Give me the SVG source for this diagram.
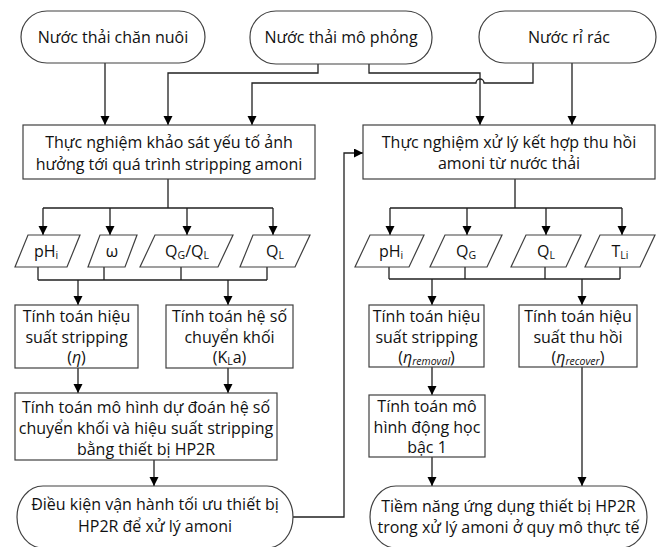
<svg xmlns="http://www.w3.org/2000/svg" width="657" height="547" viewBox="0 0 657 547">
<defs>
<marker id="arr" markerUnits="userSpaceOnUse" markerWidth="10" markerHeight="10" refX="9" refY="4.5" orient="auto">
<path d="M0,0 L9,4.5 L0,9 z" fill="#000"/>
</marker>
<style>
.n{fill:#fff;stroke:#404040;stroke-width:1.2}
.c{fill:none;stroke:#202020;stroke-width:1.3}
.a{marker-end:url(#arr)}
text{font-family:"Open Sans","Noto Sans","Liberation Sans",sans-serif;font-size:16px;fill:#111;text-anchor:middle}
.s{font-size:10.5px}
.i{font-style:italic}
.si{font-size:10.5px;font-style:italic}
</style>
</defs>
<rect width="657" height="547" fill="#fff"/>

<g id="connectors">
<path class="c a" d="M105,63 V125"/>
<path class="c a" d="M318,64 V73 H168 V125"/>
<path class="c a" d="M369,64 V73 H480 V125"/>
<path class="c a" d="M533,63 V83 H484 A4,4 0 0 0 476,83 H252 V125"/>
<path class="c a" d="M572,63 V125"/>
<path class="c" d="M168,179 V208 M43,208 H273"/>
<path class="c a" d="M43,208 V235"/>
<path class="c a" d="M110,208 V235"/>
<path class="c a" d="M187,208 V235"/>
<path class="c a" d="M273,208 V235"/>
<path class="c" d="M515,179 V208 M390,208 H622"/>
<path class="c a" d="M390,208 V235"/>
<path class="c a" d="M467,208 V235"/>
<path class="c a" d="M546,208 V235"/>
<path class="c a" d="M622,208 V235"/>
<path class="c" d="M38,267 V280 M104,267 V280 M181,267 V280 M267,267 V280 M38,280 H267"/>
<path class="c a" d="M78,280 V305"/>
<path class="c a" d="M228,280 V305"/>
<path class="c" d="M389,267 V279 M465,267 V279 M545,267 V279 M620,267 V279 M389,279 H620"/>
<path class="c a" d="M432,279 V305"/>
<path class="c a" d="M582,279 V305"/>
<path class="c a" d="M78,368 V393"/>
<path class="c a" d="M228,368 V393"/>
<path class="c a" d="M154,460 V486"/>
<path class="c a" d="M293,517 H344 V153 H363"/>
<path class="c a" d="M432,367 V395"/>
<path class="c a" d="M432,457 V486"/>
<path class="c a" d="M582,367 V486"/>
</g>

<g id="t1"><rect class="n" x="21" y="11" width="184" height="52" rx="26" ry="26"/><text x="113" y="43">Nước thải chăn nuôi</text></g>
<g id="t2"><rect class="n" x="250" y="11" width="182" height="53" rx="26" ry="26"/><text x="341" y="43">Nước thải mô phỏng</text></g>
<g id="t3"><rect class="n" x="479" y="11" width="177" height="52" rx="26" ry="26"/><text x="569" y="43">Nước rỉ rác</text></g>

<g id="b1"><rect class="n" x="23" y="125" width="292" height="54"/><text x="169" y="148">Thực nghiệm khảo sát yếu tố ảnh</text><text x="169" y="170">hưởng tới quá trình stripping amoni</text></g>
<g id="b2"><rect class="n" x="363" y="125" width="292" height="54"/><text x="509" y="148">Thực nghiệm xử lý kết hợp thu hồi</text><text x="509" y="169">amoni từ nước thải</text></g>

<g id="p1"><polygon class="n" points="28,235 80,235 67,267 15,267"/><text x="46" y="257">pH<tspan class="s" dy="2">i</tspan></text></g>
<g id="p2"><polygon class="n" points="100,235 137,235 125,267 88,267"/><text x="112" y="257">ω</text></g>
<g id="p3"><polygon class="n" points="155,235 233,235 218,267 140,267"/><text x="187" y="257">Q<tspan class="s" dy="2">G</tspan><tspan dy="-2">/Q</tspan><tspan class="s" dy="2">L</tspan></text></g>
<g id="p4"><polygon class="n" points="253,235 310,235 295,267 240,267"/><text x="275" y="257">Q<tspan class="s" dy="2">L</tspan></text></g>

<g id="p5"><polygon class="n" points="370,235 424,235 409,267 355,267"/><text x="391" y="257">pH<tspan class="s" dy="2">i</tspan></text></g>
<g id="p6"><polygon class="n" points="445,235 502,235 487,267 430,267"/><text x="466" y="257">Q<tspan class="s" dy="2">G</tspan></text></g>
<g id="p7"><polygon class="n" points="526,235 581,235 566,267 511,267"/><text x="546" y="257">Q<tspan class="s" dy="2">L</tspan></text></g>
<g id="p8"><polygon class="n" points="600,235 655,235 640,267 585,267"/><text x="620" y="257">T<tspan class="s" dy="2">Li</tspan></text></g>

<g id="b3"><rect class="n" x="15" y="305" width="123" height="63"/><text x="76.5" y="322">Tính toán hiệu</text><text x="76.5" y="343">suất stripping</text><text x="76.5" y="363">(<tspan class="i">η</tspan>)</text></g>
<g id="b4"><rect class="n" x="166" y="305" width="127" height="63"/><text x="229.5" y="322">Tính toán hệ số</text><text x="229.5" y="343">chuyển khối</text><text x="229.5" y="363">(K<tspan class="s" dy="2">L</tspan><tspan dy="-2">a)</tspan></text></g>
<g id="b5"><rect class="n" x="369" y="305" width="115" height="62"/><text x="426.5" y="322">Tính toán hiệu</text><text x="426.5" y="343">suất stripping</text><text x="426.5" y="363">(<tspan class="i">η</tspan><tspan class="si" dy="2">removal</tspan><tspan dy="-2">)</tspan></text></g>
<g id="b6"><rect class="n" x="519" y="305" width="118" height="62"/><text x="578" y="322">Tính toán hiệu</text><text x="578" y="343">suất thu hồi</text><text x="578" y="363">(<tspan class="i">η</tspan><tspan class="si" dy="2">recover</tspan><tspan dy="-2">)</tspan></text></g>

<g id="b7"><rect class="n" x="15" y="393" width="262" height="67"/><text x="146" y="413">Tính toán mô hình dự đoán hệ số</text><text x="146" y="434">chuyển khối và hiệu suất stripping</text><text x="146" y="455">bằng thiết bị HP2R</text></g>
<g id="b8"><rect class="n" x="369" y="395" width="116" height="62"/><text x="427" y="412">Tính toán mô</text><text x="427" y="433">hình động học</text><text x="427" y="453">bậc 1</text></g>

<g id="t4"><rect class="n" x="17" y="486" width="276" height="62" rx="26" ry="31"/><text x="155" y="510">Điều kiện vận hành tối ưu thiết bị</text><text x="155" y="532">HP2R để xử lý amoni</text></g>
<g id="t5"><rect class="n" x="370" y="486" width="277" height="62" rx="26" ry="31"/><text x="508.5" y="512">Tiềm năng ứng dụng thiết bị HP2R</text><text x="508.5" y="533">trong xử lý amoni ở quy mô thực tế</text></g>
</svg>
